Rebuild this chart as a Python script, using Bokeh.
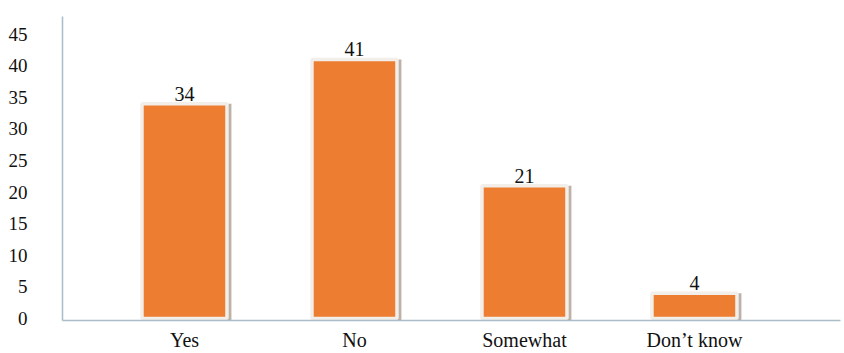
from bokeh.plotting import figure
from bokeh.models import ColumnDataSource, FixedTicker, Range1d, LabelSet
from bokeh.transform import dodge
from bokeh.embed import file_html
from bokeh.resources import INLINE

# Survey answers and their counts
categories = ["Yes", "No", "Somewhat", "Don\u2019t know"]
counts = [34, 41, 21, 4]
y_ticks = [0, 5, 10, 15, 20, 25, 30, 35, 40, 45]

positions = list(range(len(categories)))
source = ColumnDataSource(dict(
    x=positions,
    top=counts,
    label=[str(c) for c in counts],
))

SERIF = "Liberation Serif"
AXIS_COLOR = "#a9bcc7"

p = figure(
    width=844, height=353,
    output_backend="svg", toolbar_location=None,
    x_range=Range1d(-0.7176, 3.859),
    y_range=Range1d(-0.32, 47.8),
    min_border_left=62, min_border_right=4,
    min_border_top=16, min_border_bottom=33,
)
p.outline_line_color = None
p.background_fill_color = "white"
p.xgrid.grid_line_color = None
p.ygrid.grid_line_color = None

# soft drop shadow behind each bar
p.vbar(x=dodge("x", 0.016, range=p.x_range), top="top", bottom=-0.6, width=0.52,
       source=source, fill_color="#bdb1a8", line_color=None)
# bars with a pale frame
p.vbar(x="x", top="top", bottom=0, width=0.5, source=source,
       fill_color="#ed7d31", line_color="#f2eeea", line_width=3.5)

labels = LabelSet(x="x", y="top", text="label", source=source,
                  text_align="center", text_baseline="bottom", y_offset=3,
                  text_font=SERIF, text_font_size="20px", text_color="#111111")
p.add_layout(labels)

p.xaxis.ticker = FixedTicker(ticks=positions)
p.xaxis.major_label_overrides = {i: c for i, c in enumerate(categories)}
p.xaxis.major_label_text_font = SERIF
p.xaxis.major_label_text_font_size = "20px"
p.xaxis.major_label_text_color = "#111111"
p.xaxis.major_label_standoff = 2
p.xaxis.axis_line_color = AXIS_COLOR
p.xaxis.axis_line_width = 1.5

p.yaxis.ticker = FixedTicker(ticks=y_ticks)
p.yaxis.major_label_text_font = SERIF
p.yaxis.major_label_text_font_size = "19px"
p.yaxis.major_label_text_color = "#111111"
p.yaxis.major_label_standoff = 29
p.yaxis.axis_line_color = AXIS_COLOR
p.yaxis.axis_line_width = 1.5

for ax in (p.xaxis, p.yaxis):
    ax.major_tick_line_color = None
    ax.minor_tick_line_color = None

open("out.html", "w").write(file_html(p, INLINE))
